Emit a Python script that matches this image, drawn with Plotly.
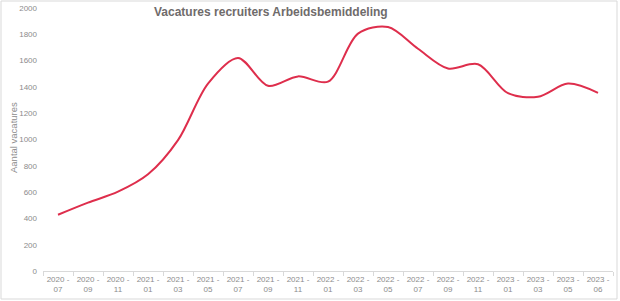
import plotly.graph_objects as go

categories = ["2020 -<br>07", "2020 -<br>09", "2020 -<br>11", "2021 -<br>01", "2021 -<br>03",
              "2021 -<br>05", "2021 -<br>07", "2021 -<br>09", "2021 -<br>11", "2022 -<br>01",
              "2022 -<br>03", "2022 -<br>05", "2022 -<br>07", "2022 -<br>09", "2022 -<br>11",
              "2023 -<br>01", "2023 -<br>03", "2023 -<br>05", "2023 -<br>06"]
values = [428, 520, 603, 735, 995, 1425, 1620, 1408, 1480, 1440,
          1805, 1855, 1690, 1540, 1572, 1352, 1325, 1425, 1355]
y_ticks = [0, 200, 400, 600, 800, 1000, 1200, 1400, 1600, 1800, 2000]

W, H = 620, 301
L, R, T, B = 43, 7, 8, 30
pw, ph = W - L - R, H - T - B

fig = go.Figure()
fig.add_trace(go.Scatter(
    x=categories, y=values, mode="lines",
    line=dict(color="#DE2E4C", width=2, shape="spline", smoothing=0.9),
    hoverinfo="x+y", showlegend=False))

def px_x(p):
    return (p - L) / pw

def px_y(p):
    return (H - B - p) / ph

fig.add_shape(type="rect", xref="paper", yref="paper",
              x0=px_x(1), x1=px_x(617), y0=px_y(299), y1=px_y(1),
              line=dict(color="#D9D9D9", width=1), fillcolor="rgba(0,0,0,0)", layer="below")

fig.add_annotation(text="<b>Vacatures recruiters Arbeidsbemiddeling</b>",
                   xref="paper", yref="paper", x=px_x(271), y=px_y(12),
                   xanchor="center", yanchor="middle", showarrow=False,
                   font=dict(family="Liberation Sans, Arial", size=12, color="#6F6B6B"))

fig.add_annotation(text="Aantal vacatures", textangle=-90,
                   xref="paper", yref="paper", x=px_x(13), y=px_y(138),
                   xanchor="center", yanchor="middle", showarrow=False,
                   font=dict(family="Liberation Sans, Arial", size=9.5, color="#8C8C8C"))

fig.update_layout(
    width=W, height=H,
    margin=dict(l=L, r=R, t=T, b=B),
    paper_bgcolor="white", plot_bgcolor="white",
    font=dict(family="Liberation Sans, Arial", size=8, color="#8C8C8C"),
    xaxis=dict(type="category", range=[-0.5, len(categories) - 0.5],
               showgrid=False, showline=True, linecolor="#D9D9D9",
               linewidth=1, ticks="outside", tickson="boundaries", ticklen=4,
               tickcolor="#D9D9D9", tickangle=0, automargin=False,
               tickfont=dict(size=8, color="#8C8C8C"),
               zeroline=False, fixedrange=True),
    yaxis=dict(range=[0, 2000], tickvals=y_ticks, showgrid=False, showline=False,
               zeroline=False, ticks="", ticklabelstandoff=5, automargin=False,
               tickfont=dict(size=8, color="#8C8C8C"),
               fixedrange=True),
)

fig.write_html("out.html")
